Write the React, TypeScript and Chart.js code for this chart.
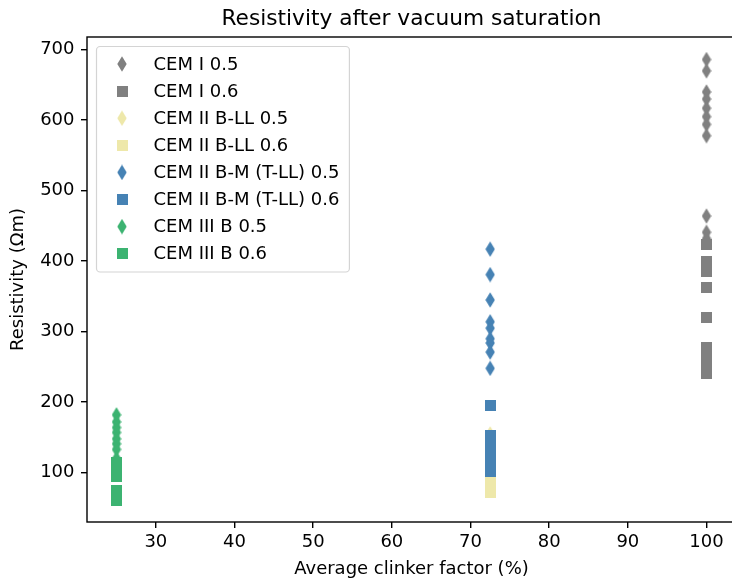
import React, { useEffect, useRef } from 'react';
import { Chart, registerables } from 'chart.js';

Chart.register(...registerables);

// ---- data ----
const seriesLabels = [
  'CEM I 0.5',
  'CEM I 0.6',
  'CEM II B-LL 0.5',
  'CEM II B-LL 0.6',
  'CEM II B-M (T-LL) 0.5',
  'CEM II B-M (T-LL) 0.6',
  'CEM III B 0.5',
  'CEM III B 0.6',
];
const clinkerCemI = 100;
const clinkerCemIIBLL = 72.5;
const clinkerCemIIBM = 72.5;
const clinkerCemIIIB = 25;

const cemI_05 = [686, 670, 640, 630, 617, 605, 594, 578, 464, 441, 432];
const cemI_06 = [423, 399, 386, 363, 320, 278, 270, 262, 255, 248, 241];
const cemIIBLL_05 = [155, 145, 130, 115, 100, 88, 80];
const cemIIBLL_06 = [100, 94, 88, 82, 77, 72];
const cemIIBM_05 = [417, 381, 345, 314, 305, 290, 284, 271, 248];
const cemIIBM_06 = [195, 153, 147, 140, 133, 126, 119, 112, 106, 102];
const cemIIIB_05 = [182, 172, 164, 157, 148, 141, 133, 120, 110];
const cemIIIB_06 = [114, 110, 106, 102, 98, 95, 75, 70, 66, 61];

const xTicks = [30, 40, 50, 60, 70, 80, 90, 100];
const yTicks = [100, 200, 300, 400, 500, 600, 700];

const colorGrey = '#808080';
const colorYellow = '#eee8aa';
const colorBlue = '#4682b4';
const colorGreen = '#3cb371';

const FONT = "'DejaVu Sans', sans-serif";

function makeDiamond(color: string): HTMLCanvasElement {
  const c = document.createElement('canvas');
  c.width = 10;
  c.height = 16;
  const ctx = c.getContext('2d')!;
  ctx.fillStyle = color;
  ctx.beginPath();
  ctx.moveTo(5, 0.2);
  ctx.lineTo(9.7, 8);
  ctx.lineTo(5, 15.8);
  ctx.lineTo(0.3, 8);
  ctx.closePath();
  ctx.fill();
  return c;
}

function makeSquare(color: string): HTMLCanvasElement {
  const c = document.createElement('canvas');
  c.width = 11;
  c.height = 11;
  const ctx = c.getContext('2d')!;
  ctx.fillStyle = color;
  ctx.fillRect(0, 0, 11, 11);
  return c;
}

export default function App() {
  const ref = useRef<HTMLCanvasElement | null>(null);

  useEffect(() => {
    document.body.style.margin = '0';
    document.body.style.overflow = 'hidden';
    const canvas = ref.current!;

    const mk = (i: number, x: number, vals: number[], color: string, diamond: boolean) => ({
      label: seriesLabels[i],
      order: 10 - i,
      data: vals.map((v) => ({ x, y: v })),
      pointStyle: diamond ? makeDiamond(color) : makeSquare(color),
      pointRadius: 6,
      backgroundColor: color,
      borderColor: color,
      showLine: false,
    });

    const datasets = [
      mk(0, clinkerCemI, cemI_05, colorGrey, true),
      mk(1, clinkerCemI, cemI_06, colorGrey, false),
      mk(2, clinkerCemIIBLL, cemIIBLL_05, colorYellow, true),
      mk(3, clinkerCemIIBLL, cemIIBLL_06, colorYellow, false),
      mk(4, clinkerCemIIBM, cemIIBM_05, colorBlue, true),
      mk(5, clinkerCemIIBM, cemIIBM_06, colorBlue, false),
      mk(6, clinkerCemIIIB, cemIIIB_05, colorGreen, true),
      mk(7, clinkerCemIIIB, cemIIIB_06, colorGreen, false),
    ];

    const framePlugin = {
      id: 'frameAndLegend',
      afterDraw(chart: any) {
        const ctx = chart.ctx as CanvasRenderingContext2D;
        const a = chart.chartArea;
        ctx.save();
        // frame (spines)
        ctx.strokeStyle = '#000';
        ctx.lineWidth = 1.4;
        ctx.strokeRect(a.left, a.top, a.right - a.left, a.bottom - a.top);
        // title
        ctx.fillStyle = '#000';
        ctx.font = `21.7px ${FONT}`;
        ctx.textAlign = 'center';
        ctx.textBaseline = 'middle';
        ctx.fillText('Resistivity after vacuum saturation', (a.left + a.right) / 2, 19);
        // legend
        ctx.font = `18px ${FONT}`;
        const lx = a.left + 9.5;
        const ly = a.top + 9.5;
        const textX = lx + 57;
        let maxW = 0;
        chart.data.datasets.forEach((ds: any) => {
          maxW = Math.max(maxW, ctx.measureText(ds.label).width);
        });
        const lw = textX + maxW + 10 - lx;
        const lh = 225.5;
        const r = 3.6;
        ctx.beginPath();
        ctx.moveTo(lx + r, ly);
        ctx.lineTo(lx + lw - r, ly);
        ctx.arcTo(lx + lw, ly, lx + lw, ly + r, r);
        ctx.lineTo(lx + lw, ly + lh - r);
        ctx.arcTo(lx + lw, ly + lh, lx + lw - r, ly + lh, r);
        ctx.lineTo(lx + r, ly + lh);
        ctx.arcTo(lx, ly + lh, lx, ly + lh - r, r);
        ctx.lineTo(lx, ly + r);
        ctx.arcTo(lx, ly, lx + r, ly, r);
        ctx.closePath();
        ctx.fillStyle = 'rgba(255,255,255,0.8)';
        ctx.fill();
        ctx.lineWidth = 1.2;
        ctx.strokeStyle = '#d4d4d4';
        ctx.stroke();
        ctx.textAlign = 'left';
        ctx.textBaseline = 'middle';
        chart.data.datasets.forEach((ds: any, i: number) => {
          const cy = ly + 17.5 + i * 27.1;
          const img = ds.pointStyle as HTMLCanvasElement;
          ctx.drawImage(img, lx + 25.5 - img.width / 2, cy - img.height / 2);
          ctx.fillStyle = '#000';
          ctx.fillText(ds.label, textX, cy + 1);
        });
        ctx.restore();
      },
    };

    const chart = new Chart(canvas, {
      type: 'scatter',
      data: { datasets },
      options: {
        animation: false,
        responsive: false,
        maintainAspectRatio: false,
        layout: { autoPadding: false, padding: { top: 37, right: 0, left: 0, bottom: 0 } },
        plugins: {
          legend: { display: false },
          title: { display: false },
          tooltip: { enabled: false },
        },
        scales: {
          x: {
            type: 'linear',
            min: 21.25,
            max: 103.75,
            afterFit: (s: any) => { s.height = 56; s.paddingLeft = 0; s.paddingRight = 0; },
            afterBuildTicks: (s: any) => { s.ticks = xTicks.map((v) => ({ value: v })); },
            grid: { display: true, drawOnChartArea: false, drawTicks: true, tickLength: 6, color: '#000', lineWidth: 1.4 },
            border: { display: false },
            ticks: { color: '#000', font: { family: FONT, size: 18 }, padding: 4, maxRotation: 0, autoSkip: false },
            title: { display: true, text: 'Average clinker factor (%)', color: '#000', font: { family: FONT, size: 18, lineHeight: 1.0 }, padding: { top: 0, bottom: 0 } },
          },
          y: {
            type: 'linear',
            min: 30,
            max: 718,
            afterFit: (s: any) => { s.width = 87; s.paddingTop = 0; s.paddingBottom = 0; },
            afterBuildTicks: (s: any) => { s.ticks = yTicks.map((v) => ({ value: v })); },
            grid: { display: true, drawOnChartArea: false, drawTicks: true, tickLength: 6, color: '#000', lineWidth: 1.4 },
            border: { display: false },
            ticks: { color: '#000', font: { family: FONT, size: 18 }, padding: 6.5, autoSkip: false },
            title: { display: true, text: 'Resistivity (Ωm)', color: '#000', font: { family: FONT, size: 18, lineHeight: 1.0 }, padding: { top: 9.5, bottom: 0 } },
          },
        },
      },
      plugins: [framePlugin],
    } as any);

    return () => chart.destroy();
  }, []);

  return <canvas ref={ref} width={736} height={578} style={{ display: 'block' }} />;
}
